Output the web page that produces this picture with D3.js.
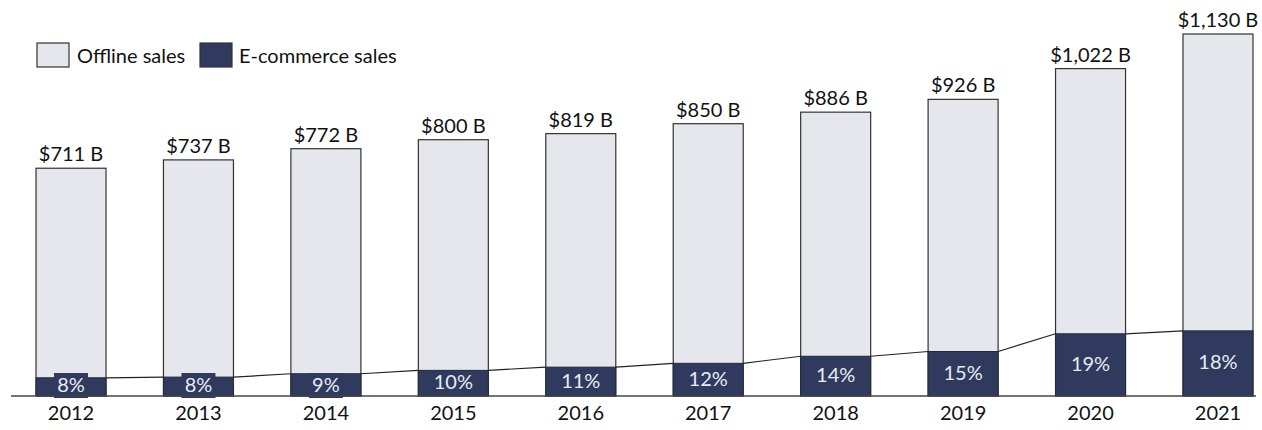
<!DOCTYPE html>
<html><head><meta charset="utf-8">
<script src="https://cdn.jsdelivr.net/npm/d3@7"></script>
<style>body{margin:0;background:#fff;}svg{display:block;font-family:Lato,"Open Sans",sans-serif;}</style>
</head><body><svg id="c" width="1262" height="430"></svg>
<script>
const years = ["2012","2013","2014","2015","2016","2017","2018","2019","2020","2021"];
const totals = [711,737,772,800,819,850,886,926,1022,1130];
const ecomShare = [8,8,9,10,11,12,14,15,19,18];
const totalLabels = ["$711 B","$737 B","$772 B","$800 B","$819 B","$850 B","$886 B","$926 B","$1,022 B","$1,130 B"];
const seriesNames = ["Offline sales","E-commerce sales"];

const lightFill = "#e5e7ed", darkFill = "#2f3a5e", stroke = "#333";
const FS = 20;
const svg = d3.select("#c");
const base = 396;
const x = d3.scaleBand().domain(years).range([1.6, 1287.4]).paddingInner(0.4507).paddingOuter(0.27);
const y = d3.scaleLinear().domain([0, 1130]).range([base, 34]);
const data = years.map((yr,i)=>({yr, total: totals[i], ecom: totals[i]*ecomShare[i]/100, pct: ecomShare[i], lab: totalLabels[i]}));

// offline (full) bars
svg.selectAll("rect.tot").data(data).join("rect").attr("class","tot")
  .attr("x", d=>x(d.yr)).attr("width", x.bandwidth())
  .attr("y", d=>y(d.total)).attr("height", d=>base - y(d.total))
  .attr("fill", lightFill).attr("stroke", stroke).attr("stroke-width", 1.2);
// ecom bars
svg.selectAll("rect.ec").data(data).join("rect").attr("class","ec")
  .attr("x", d=>x(d.yr)).attr("width", x.bandwidth())
  .attr("y", d=>y(d.ecom)).attr("height", d=>base - y(d.ecom))
  .attr("fill", darkFill).attr("stroke", "#222a40").attr("stroke-width", 1);
// series lines
for (let i=0;i<data.length-1;i++){
  svg.append("line").attr("x1", x(data[i].yr)+x.bandwidth()).attr("y1", y(data[i].ecom))
    .attr("x2", x(data[i+1].yr)).attr("y2", y(data[i+1].ecom))
    .attr("stroke","#222").attr("stroke-width",1.2);
}
// pct labels with background
const small = d => base - y(d.ecom) < 24;
const pg = svg.selectAll("g.pl").data(data).join("g").attr("class","pl");
pg.filter(small).append("rect").attr("x", d=>x(d.yr)+x.bandwidth()/2-17).attr("width",34)
  .attr("y", base-23).attr("height", 25).attr("fill", darkFill);
pg.append("text").attr("x", d=>x(d.yr)+x.bandwidth()/2)
  .attr("y", d=> small(d) ? base - 4 : (y(d.ecom)+base)/2 + 6)
  .attr("text-anchor","middle").attr("font-size",FS).attr("fill","#e8ecf5").text(d=>d.pct+"%");
// total labels
svg.selectAll("text.tl").data(data).join("text").attr("class","tl")
  .attr("x", d=>x(d.yr)+x.bandwidth()/2).attr("y", d=>y(d.total)-7)
  .attr("text-anchor","middle").attr("font-size",FS).attr("fill","#111").text(d=>d.lab);
// axis
const ax = svg.append("g").attr("transform",`translate(0,${base})`).call(d3.axisBottom(x).tickSize(0).tickPadding(10));
ax.select(".domain").remove();
ax.selectAll("text").attr("font-size",FS).attr("fill","#111").attr("font-family","Lato,'Open Sans',sans-serif");
svg.append("line").attr("x1",11).attr("x2",1256).attr("y1",base).attr("y2",base).attr("stroke","#444").attr("stroke-width",1.5);
// legend
const leg = [{n:seriesNames[0], f:lightFill, x:37, tx:77},{n:seriesNames[1], f:darkFill, x:200, tx:239}];
leg.forEach(l=>{
  svg.append("rect").attr("x",l.x).attr("y",43).attr("width",32).attr("height",24).attr("fill",l.f).attr("stroke",stroke).attr("stroke-width",1.2);
  svg.append("text").attr("x",l.tx).attr("y",63).attr("font-size",FS).attr("fill","#111").text(l.n);
});
</script></body></html>
